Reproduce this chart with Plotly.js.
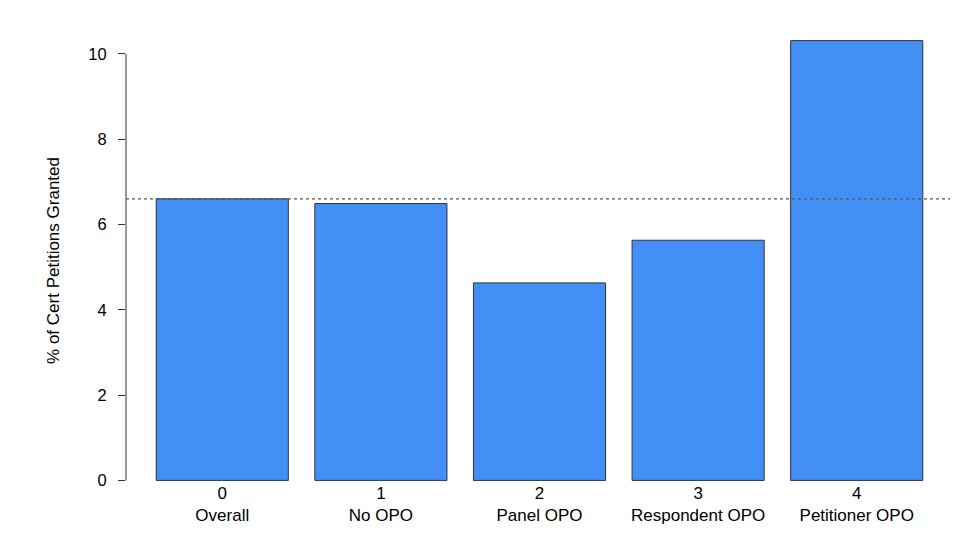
<!DOCTYPE html>
<html>
<head>
<meta charset="utf-8">
<script src="https://cdn.plot.ly/plotly-3.0.1.min.js"></script>
<style>html,body{margin:0;padding:0;background:#fff;}#chart{width:975px;height:541px;}</style>
</head>
<body>
<div id="chart"></div>
<script>
const categories = ["Overall", "No OPO", "Panel OPO", "Respondent OPO", "Petitioner OPO"];
const indexLabels = ["0", "1", "2", "3", "4"];
const grantRates = [6.60, 6.49, 4.63, 5.63, 10.31];
const overallRate = 6.60;
const yTicks = [0, 2, 4, 6, 8, 10];

const positions = categories.map((c, i) => i);
const tickText = categories.map((c, i) => indexLabels[i] + "<br>" + c);

const trace = {
  type: "bar",
  x: positions,
  y: grantRates,
  width: 0.833,
  marker: { color: "#4290f5", line: { color: "#333333", width: 1 } },
  hoverinfo: "skip"
};

const layout = {
  width: 975, height: 541,
  margin: { l: 126, r: 25, t: 23, b: 43 },
  paper_bgcolor: "#ffffff", plot_bgcolor: "#ffffff",
  showlegend: false,
  font: { family: "Liberation Sans, Arial, sans-serif", size: 17, color: "#000" },
  bargap: 0,
  xaxis: {
    type: "linear",
    range: [-0.607, 4.588],
    tickvals: positions,
    ticktext: tickText,
    ticks: "",
    showgrid: false, zeroline: false, showline: false,
    tickfont: { size: 17 },
    ticklabelstandoff: -17
  },
  yaxis: {
    range: [-0.412, 10.722],
    tickvals: yTicks,
    ticktext: yTicks.map(String),
    ticks: "outside", ticklen: 7, tickcolor: "#333", tickwidth: 1,
    showgrid: false, zeroline: false, showline: false,
    tickfont: { size: 16.5 },
    ticklabelstandoff: 8,
    title: { text: "% of Cert Petitions Granted", font: { size: 17 }, standoff: 24 }
  },
  shapes: [
    { type: "line", xref: "paper", x0: 0, x1: 0, yref: "y", y0: 0, y1: 10,
      line: { color: "#333", width: 1 } },
    { type: "line", xref: "paper", x0: 0, x1: 1, yref: "y", y0: overallRate, y1: overallRate,
      line: { color: "#555", width: 1.3, dash: "dot" } }
  ]
};

Plotly.newPlot("chart", [trace], layout, { displayModeBar: false, staticPlot: true });
</script>
</body>
</html>
